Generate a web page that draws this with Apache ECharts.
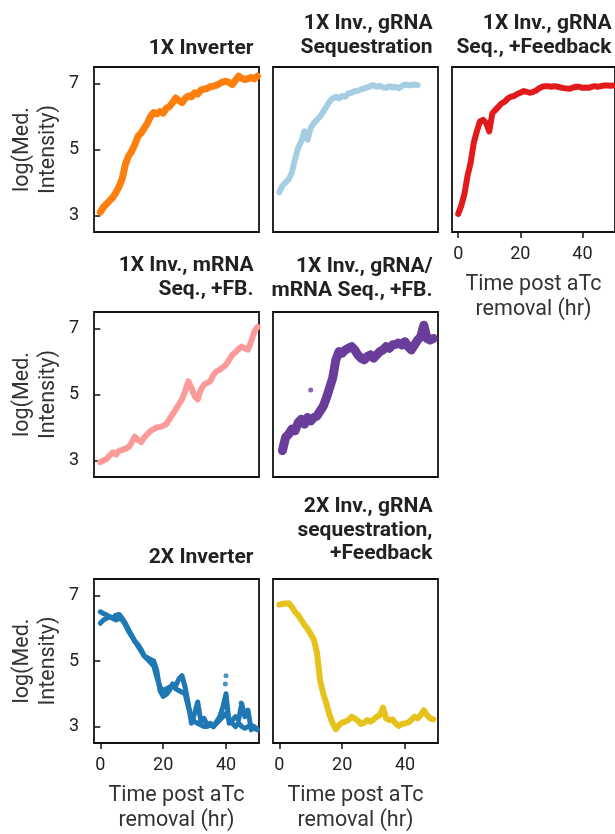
<!DOCTYPE html>
<html lang="en">
<head>
<meta charset="UTF-8">
<title>Inverter time courses</title>
<style>
  html, body { margin: 0; padding: 0; background: #fff; }
  #chart { width: 615px; height: 834px; }
</style>
</head>
<body>
<div id="chart"></div>
<script src="https://cdn.jsdelivr.net/npm/echarts@6/dist/echarts.min.js"></script>
<script>
// one sample per hour after aTc removal
const hours = [0, 1, 2, 3, 4, 5, 6, 7, 8, 9, 10, 11, 12, 13, 14, 15, 16, 17, 18, 19, 20,
  21, 22, 23, 24, 25, 26, 27, 28, 29, 30, 31, 32, 33, 34, 35, 36, 37, 38, 39, 40,
  41, 42, 43, 44, 45, 46, 47, 48, 49, 50];
const xTicks = [0, 20, 40];
const yTicks = [3, 5, 7];

const inv1x = [3.1, 3.25, 3.35, 3.45, 3.55, 3.7, 3.88, 4.12, 4.55, 4.8, 4.95, 5.15, 5.4, 5.5, 5.65,
  5.8, 6.0, 6.12, 6.08, 6.15, 6.1, 6.25, 6.3, 6.42, 6.56, 6.48, 6.42, 6.55, 6.62, 6.6, 6.72,
  6.68, 6.8, 6.83, 6.85, 6.9, 6.92, 6.95, 7.0, 7.05, 7.07, 7.03, 6.97, 7.1, 7.22, 7.16, 7.12,
  7.15, 7.18, 7.14, 7.22];
const gSeq = [3.7, 3.9, 4.0, 4.1, 4.3, 4.7, 5.05, 5.25, 5.55, 5.3, 5.65, 5.8, 5.9, 6.0, 6.15,
  6.3, 6.45, 6.55, 6.6, 6.55, 6.62, 6.6, 6.7, 6.72, 6.77, 6.78, 6.82, 6.85, 6.88, 6.92, 6.95,
  6.9, 6.93, 6.88, 6.87, 6.92, 6.88, 6.9, 6.85, 6.92, 6.97, 6.95, 6.95, 6.97, 6.95];
const gSeqFb = [3.05, 3.3, 3.65, 4.2, 4.6, 5.2, 5.55, 5.85, 5.9, 5.8, 5.55, 6.1, 6.2, 6.3, 6.4,
  6.45, 6.55, 6.6, 6.62, 6.68, 6.72, 6.77, 6.75, 6.72, 6.74, 6.78, 6.85, 6.9, 6.92, 6.92, 6.9,
  6.92, 6.9, 6.88, 6.86, 6.85, 6.84, 6.88, 6.9, 6.9, 6.87, 6.88, 6.87, 6.9, 6.92, 6.9, 6.92,
  6.94, 6.94, 6.93, 6.94];
const mSeqFb = [2.95, 3.0, 3.05, 3.15, 3.25, 3.18, 3.3, 3.32, 3.36, 3.4, 3.55, 3.72, 3.62, 3.56,
  3.7, 3.8, 3.9, 3.95, 4.0, 4.02, 4.05, 4.1, 4.25, 4.4, 4.55, 4.7, 4.85, 5.1, 5.4, 5.2, 4.95,
  4.85, 5.15, 5.3, 5.35, 5.4, 5.6, 5.7, 5.75, 5.82, 5.9, 6.05, 6.2, 6.28, 6.38, 6.45, 6.4,
  6.36, 6.6, 6.9, 7.05];
const gmSeqFb = [null, 3.3, 3.7, 3.8, 3.95, 3.9, 4.15, 4.25, 4.1, 4.3, 4.2, 4.3, 4.35, 4.5, 4.65,
  4.9, 5.2, 5.5, 6.05, 6.3, 6.25, 6.35, 6.4, 6.45, 6.35, 6.2, 6.1, 6.05, 6.15, 6.2, 6.1,
  6.2, 6.3, 6.35, 6.45, 6.4, 6.5, 6.52, 6.56, 6.5, 6.6, 6.45, 6.35, 6.5, 6.65, 6.75, 7.1,
  6.7, 6.65, 6.7];
const gmSeqFbOut = [[10, 5.14]];
const inv2xA = [6.15, 6.25, 6.3, 6.35, 6.3, 6.4, 6.42, 6.3, 6.15, 5.95, 5.78, 5.6, 5.5, 5.35,
  5.15, 5.1, 5.05, 5.0, 4.7, 4.1, 3.92, 3.98, 4.1, 4.3, 4.25, 4.45, 4.55, 4.2, 3.7, 3.1, 3.4,
  3.75, 3.15, 3.25, 3.05, 3.1, 3.0, 3.15, 3.3, 3.6, 4.0, 3.1, 3.2, 3.3, 3.2, 3.7, 3.3, 3.5,
  2.9, 3.0, 2.92];
const inv2xB = [6.5, 6.45, 6.4, 6.35, 6.3, 6.25, 6.3, 6.25, 6.1, 5.9, 5.75, 5.6, 5.45, 5.3,
  5.15, 5.05, 4.95, 4.85, 4.5, 4.2, 4.1, 4.15, 4.2, 4.25, 4.15, 4.1, 4.05, 4.0, 3.6, 3.3, 3.15,
  3.1, 3.05, 3.0, 3.0, 3.05, 3.0, 3.1, 3.2, 3.3, 3.4, 3.2, 3.1, 3.0, 3.1, 3.0, 2.95, 3.0,
  3.05, 2.95, 2.9];
const inv2xOut = [[40, 4.55], [39.8, 4.3], [46.8, 3.48], [44.8, 3.72]];
const inv2xFb = [6.72, 6.74, 6.75, 6.76, 6.65, 6.5, 6.4, 6.25, 6.1, 5.98, 5.82, 5.65, 5.25, 4.4,
  4.0, 3.7, 3.35, 3.1, 2.92, 3.05, 3.12, 3.15, 3.2, 3.3, 3.25, 3.18, 3.08, 3.12, 3.2, 3.15,
  3.22, 3.3, 3.35, 3.58, 3.25, 3.2, 3.22, 3.1, 3.02, 3.08, 3.1, 3.12, 3.2, 3.3, 3.25, 3.35,
  3.5, 3.35, 3.25, 3.22];

// titleY = centre of the first title line
const panels = [
  {title: '1X Inverter', titleY: 49, col: 0, row: 0, color: '#ff7f0e', lines: [inv1x], width: 7, yAxisOn: true},
  {title: '1X Inv., gRNA\nSequestration', titleY: 24, col: 1, row: 0, color: '#a6cee3', lines: [gSeq]},
  {title: '1X Inv., gRNA\nSeq., +Feedback', titleY: 24, col: 2, row: 0, color: '#e31a1c', lines: [gSeqFb], xAxisOn: true},
  {title: '1X Inv., mRNA\nSeq., +FB.', titleY: 266, col: 0, row: 1, color: '#fb9a99', lines: [mSeqFb], yAxisOn: true},
  {title: '1X Inv., gRNA/\nmRNA Seq., +FB.', titleY: 267, col: 1, row: 1, color: '#6a3d9a', lines: [gmSeqFb], dots: gmSeqFbOut, width: 9},
  {title: '2X Inverter', titleY: 558, col: 0, row: 2, color: '#1f78b4', lines: [inv2xA, inv2xB], dots: inv2xOut, width: 5, yAxisOn: true, xAxisOn: true},
  {title: '2X Inv., gRNA\nsequestration,\n+Feedback', titleY: 507, col: 1, row: 2, color: '#e6c21d', lines: [inv2xFb], xAxisOn: true}
];

const colLeft = [94, 273, 452];
const rowTop = [67, 312, 579];
const boxSize = 165;
const font = 'Roboto';
const titleLine = 23.5;

let chart = echarts.init(document.getElementById('chart'));
let grid = [], xAxis = [], yAxis = [], series = [], graphic = [];

panels.forEach(function (p, i) {
  let left = colLeft[p.col], top = rowTop[p.row];
  grid.push({left: left, top: top, width: boxSize, height: boxSize, show: true,
    borderColor: '#111', borderWidth: 1.8, backgroundColor: 'transparent'});
  graphic.push({type: 'text', left: null, x: left + boxSize - 5.5, y: p.titleY - titleLine / 2,
    style: {text: p.title, align: 'right', verticalAlign: 'top', fill: '#222',
      font: 'bold 21px ' + font, lineHeight: titleLine}});
  xAxis.push({type: 'value', gridIndex: i, min: -2, max: 50.5,
    axisLine: {show: false}, splitLine: {show: false},
    axisTick: {show: !!p.xAxisOn, customValues: xTicks, length: 6, lineStyle: {color: '#111', width: 1.5}},
    axisLabel: {show: !!p.xAxisOn, customValues: xTicks, margin: 13, fontFamily: font, fontSize: 18, color: '#222'},
    name: p.xAxisOn ? 'Time post aTc\nremoval (hr)' : '', nameLocation: 'middle', nameGap: 40,
    nameTextStyle: {fontFamily: font, fontSize: 21.5, color: '#333', lineHeight: 25}});
  yAxis.push({type: 'value', gridIndex: i, min: 2.5, max: 7.5,
    axisLine: {show: false}, splitLine: {show: false},
    axisTick: {show: !!p.yAxisOn, customValues: yTicks, length: 6, lineStyle: {color: '#111', width: 1.5}},
    axisLabel: {show: !!p.yAxisOn, customValues: yTicks, margin: 15, fontFamily: font, fontSize: 18, color: '#222'},
    name: p.yAxisOn ? 'log(Med.\nIntensity)' : '', nameLocation: 'middle', nameGap: 32,
    nameTextStyle: {fontFamily: font, fontSize: 21.5, color: '#333', lineHeight: 26}});
  p.lines.forEach(function (vals) {
    let pts = [];
    vals.forEach(function (v, k) { if (v !== null) pts.push([hours[k], v]); });
    series.push({type: 'line', xAxisIndex: i, yAxisIndex: i, data: pts, showSymbol: false,
      silent: true, clip: true, color: p.color,
      lineStyle: {color: p.color, width: p.width || 6, join: 'round', cap: 'round'}});
  });
  if (p.dots) {
    series.push({type: 'scatter', xAxisIndex: i, yAxisIndex: i, data: p.dots, symbolSize: 5,
      silent: true, itemStyle: {color: p.color}});
  }
});

chart.setOption({animation: false, graphic: graphic, grid: grid, xAxis: xAxis, yAxis: yAxis, series: series});
</script>
</body>
</html>
